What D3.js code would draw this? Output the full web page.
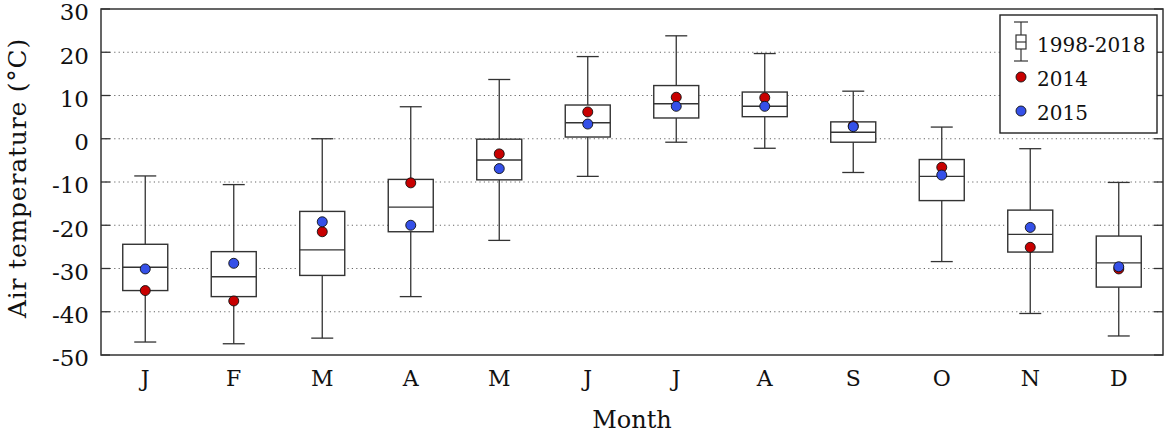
<!DOCTYPE html>
<html>
<head>
<meta charset="utf-8">
<script src="https://cdn.jsdelivr.net/npm/d3@7"></script>
<style>
  body { margin: 0; background: #fff; }
  text { font-family: "DejaVu Serif", "Liberation Serif", serif; fill: #111; }
</style>
</head>
<body>
<svg id="chart" width="1164" height="433"></svg>
<script>
// month keys (unique) and their printed labels
const monthKeys = ['Jan','Feb','Mar','Apr','May','Jun','Jul','Aug','Sep','Oct','Nov','Dec'];
const monthLabels = ['J','F','M','A','M','J','J','A','S','O','N','D'];

// 1998-2018 box statistics
const whiskerHigh = [-8.6, -10.6, 0.0, 7.4, 13.7, 19.0, 23.8, 19.7, 11.0, 2.7, -2.3, -10.1];
const upperQuart  = [-24.4, -26.1, -16.8, -9.4, -0.1, 7.8, 12.3, 10.8, 3.9, -4.8, -16.5, -22.5];
const medians     = [-29.7, -31.9, -25.7, -15.8, -4.9, 3.7, 8.1, 7.5, 1.5, -8.7, -22.1, -28.7];
const lowerQuart  = [-35.1, -36.5, -31.6, -21.5, -9.5, 0.4, 4.8, 5.1, -0.8, -14.3, -26.2, -34.3];
const whiskerLow  = [-47.0, -47.4, -46.1, -36.5, -23.5, -8.7, -0.8, -2.2, -7.8, -28.4, -40.4, -45.6];

// single years
const temp2014 = [-35.1, -37.5, -21.5, -10.2, -3.5, 6.2, 9.6, 9.5, 3.0, -6.6, -25.1, -30.1];
const temp2015 = [-30.1, -28.8, -19.2, -20.0, -6.9, 3.4, 7.5, 7.5, 2.8, -8.4, -20.5, -29.6];

const yTicks = [30, 20, 10, 0, -10, -20, -30, -40, -50];
const gridTicks = [20, 10, 0, -10, -20, -30, -40];

const svg = d3.select('#chart');
const pL = 101, pR = 1163, pT = 9, pB = 355;

const x = d3.scaleBand().domain(monthKeys).range([pL, pR]);
const y = d3.scaleLinear().domain([-50, 30]).range([pB, pT]);
const cx = d => x(d) + x.bandwidth() / 2;

const boxW = 45, capW = 22;
const ink = '#333';

// dotted grid
svg.append('g').selectAll('line').data(gridTicks).enter().append('line')
  .attr('x1', pL).attr('x2', pR)
  .attr('y1', d => y(d)).attr('y2', d => y(d))
  .attr('stroke', '#666').attr('stroke-width', 1.1)
  .attr('stroke-dasharray', '1.2,3.2');

// ticks both sides, pointing inwards
const tickG = svg.append('g');
tickG.selectAll('.tl').data(yTicks).enter().append('line')
  .attr('x1', pL).attr('x2', pL + 9)
  .attr('y1', d => y(d)).attr('y2', d => y(d))
  .attr('stroke', ink).attr('stroke-width', 1.3);
tickG.selectAll('.tr').data(yTicks).enter().append('line')
  .attr('x1', pR - 9).attr('x2', pR)
  .attr('y1', d => y(d)).attr('y2', d => y(d))
  .attr('stroke', ink).attr('stroke-width', 1.3);

// tick labels
svg.append('g').selectAll('text').data(yTicks).enter().append('text')
  .attr('x', pL - 12).attr('y', d => y(d) + 3)
  .attr('dy', '0.36em')
  .attr('text-anchor', 'end')
  .attr('font-size', 23)
  .text(d => d);

// boxes
const boxes = svg.append('g').selectAll('g').data(monthKeys).enter().append('g');

boxes.append('line') // whisker stem
  .attr('x1', cx).attr('x2', cx)
  .attr('y1', (d, i) => y(whiskerHigh[i])).attr('y2', (d, i) => y(whiskerLow[i]))
  .attr('stroke', ink).attr('stroke-width', 1.3);

[whiskerHigh, whiskerLow].forEach(arr => {
  boxes.append('line')
    .attr('x1', d => cx(d) - capW / 2)
    .attr('x2', d => cx(d) + capW / 2)
    .attr('y1', (d, i) => y(arr[i])).attr('y2', (d, i) => y(arr[i]))
    .attr('stroke', ink).attr('stroke-width', 1.3);
});

boxes.append('rect')
  .attr('x', d => cx(d) - boxW / 2)
  .attr('width', boxW)
  .attr('y', (d, i) => y(upperQuart[i]))
  .attr('height', (d, i) => y(lowerQuart[i]) - y(upperQuart[i]))
  .attr('fill', '#fff').attr('stroke', ink).attr('stroke-width', 1.4);

boxes.append('line')
  .attr('x1', d => cx(d) - boxW / 2)
  .attr('x2', d => cx(d) + boxW / 2)
  .attr('y1', (d, i) => y(medians[i])).attr('y2', (d, i) => y(medians[i]))
  .attr('stroke', ink).attr('stroke-width', 1.4);

// yearly dots, 2015 drawn over 2014
const series = [{vals: temp2014, color: '#c80000'}, {vals: temp2015, color: '#3550e8'}];
series.forEach(s => {
  svg.append('g').selectAll('circle').data(monthKeys).enter().append('circle')
    .attr('cx', cx)
    .attr('cy', (d, i) => y(s.vals[i]))
    .attr('r', 5)
    .attr('fill', s.color).attr('stroke', '#111').attr('stroke-width', 0.9);
});

// frame
svg.append('rect')
  .attr('x', pL).attr('y', pT)
  .attr('width', pR - pL).attr('height', pB - pT)
  .attr('fill', 'none').attr('stroke', ink).attr('stroke-width', 1.5);

// month labels
svg.append('g').selectAll('text').data(monthKeys).enter().append('text')
  .attr('x', cx)
  .attr('y', 386)
  .attr('text-anchor', 'middle')
  .attr('font-size', 22)
  .text((d, i) => monthLabels[i]);

svg.append('text')
  .attr('x', 632).attr('y', 428)
  .attr('text-anchor', 'middle')
  .attr('font-size', 24)
  .text('Month');

svg.append('text')
  .attr('transform', 'translate(26,178) rotate(-90)')
  .attr('text-anchor', 'middle')
  .attr('font-size', 25)
  .attr('letter-spacing', 0.8)
  .text('Air temperature (°C)');

// legend
const lg = svg.append('g');
lg.append('rect')
  .attr('x', 1000).attr('y', 15).attr('width', 157).attr('height', 118)
  .attr('fill', '#fff').attr('stroke', '#222').attr('stroke-width', 1.4);

const ix = 1021;
lg.append('line').attr('x1', ix).attr('x2', ix).attr('y1', 22).attr('y2', 61)
  .attr('stroke', ink).attr('stroke-width', 1.2);
[22, 61].forEach(v => lg.append('line')
  .attr('x1', ix - 7).attr('x2', ix + 7).attr('y1', v).attr('y2', v)
  .attr('stroke', ink).attr('stroke-width', 1.2));
lg.append('rect').attr('x', ix - 5).attr('y', 35).attr('width', 10).attr('height', 14)
  .attr('fill', '#fff').attr('stroke', ink).attr('stroke-width', 1.2);
lg.append('line').attr('x1', ix - 5).attr('x2', ix + 5).attr('y1', 42).attr('y2', 42)
  .attr('stroke', ink).attr('stroke-width', 1.2);

lg.append('circle').attr('cx', ix).attr('cy', 77).attr('r', 5)
  .attr('fill', series[0].color).attr('stroke', '#111').attr('stroke-width', 0.9);
lg.append('circle').attr('cx', ix).attr('cy', 111).attr('r', 5)
  .attr('fill', series[1].color).attr('stroke', '#111').attr('stroke-width', 0.9);

const legendNames = ['1998-2018', '2014', '2015'];
lg.selectAll('.lt').data(legendNames).enter().append('text')
  .attr('x', 1037)
  .attr('y', (d, i) => [52, 86, 120][i])
  .attr('font-size', 20)
  .text(d => d);
</script>
</body>
</html>
